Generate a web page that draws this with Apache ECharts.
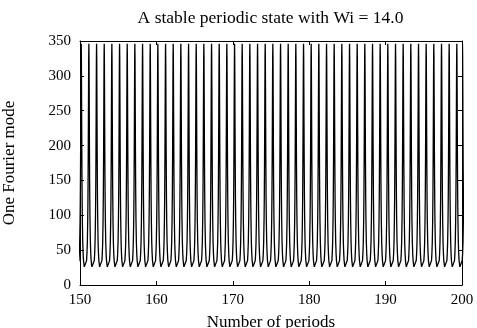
<!DOCTYPE html>
<html>
<head>
<meta charset="utf-8">
<script src="https://cdn.jsdelivr.net/npm/echarts@6/dist/echarts.min.js"></script>
<style>
html,body{margin:0;padding:0;background:#fff;}
#chart{width:477px;height:328px;}
</style>
</head>
<body>
<div id="chart"></div>
<script>
// Times (in periods) of each peak of the mode
const peakTimes = [149.16, 150.16, 151.16, 152.17, 153.17, 154.17, 155.18, 156.18, 157.18, 158.19, 159.19,
  160.19, 161.20, 162.20, 163.20, 164.21, 165.21, 166.21, 167.22, 168.22, 169.22,
  170.23, 171.23, 172.23, 173.24, 174.24, 175.24, 176.25, 177.25, 178.25, 179.26,
  180.26, 181.26, 182.27, 183.27, 184.27, 185.28, 186.28, 187.28, 188.29, 189.29,
  190.29, 191.30, 192.30, 193.30, 194.31, 195.31, 196.31, 197.32, 198.32, 199.32, 200.33];
// Shape of one period around a peak: time offsets from the peak and mode values
const cycleOffsets = [-0.5, -0.4, -0.3, -0.25, -0.2, -0.15, -0.12, -0.1, -0.08, -0.06, -0.04, -0.02, 0,
  0.02, 0.04, 0.06, 0.08, 0.1, 0.12, 0.15, 0.2, 0.25, 0.3, 0.4];
const cycleValues = [24, 26, 35, 45, 61, 92, 123, 152, 189, 235, 285, 328, 346,
  328, 285, 235, 189, 152, 123, 92, 61, 45, 35, 26];
const xRange = [150, 200];
const yRange = [0, 350];
const title = 'A stable periodic state with Wi = 14.0';
const xName = 'Number of periods';
const yName = 'One Fourier mode';

const data = [];
peakTimes.forEach(function (t) {
  cycleOffsets.forEach(function (o, j) {
    data.push([t + o, cycleValues[j]]);
  });
});

const FONT = 'Liberation Serif';
const tickTxt = { fontFamily: FONT, fontSize: 15, color: '#000' };
const nameTxt = { fontFamily: FONT, fontSize: 17, color: '#000' };
const chart = echarts.init(document.getElementById('chart'), null, { renderer: 'canvas' });
const axisCommon = {
  axisLine: { show: true, onZero: false, lineStyle: { color: '#000', width: 1 } },
  axisTick: { show: true, inside: true, length: 4, lineStyle: { color: '#000', width: 1 } },
  splitLine: { show: false }
};
chart.setOption({
  animation: false,
  backgroundColor: '#fff',
  title: {
    text: title, left: 265.5, top: 4, textAlign: 'center',
    textStyle: { fontFamily: FONT, fontSize: 17.5, fontWeight: 'normal', color: '#000' }
  },
  grid: { left: 80, right: 15, top: 41, bottom: 43, containLabel: false, outerBoundsMode: 'none' },
  xAxis: [
    Object.assign({
      type: 'value', position: 'bottom', min: xRange[0], max: xRange[1], interval: 10,
      name: xName, nameLocation: 'middle', nameGap: 29, nameMoveOverlap: false, nameTextStyle: nameTxt,
      axisLabel: Object.assign({ margin: 8 }, tickTxt)
    }, axisCommon),
    Object.assign({
      type: 'value', position: 'top', min: xRange[0], max: xRange[1], interval: 10,
      axisLabel: { show: false }
    }, axisCommon)
  ],
  yAxis: [
    Object.assign({
      type: 'value', position: 'left', min: yRange[0], max: yRange[1], interval: 50,
      name: yName, nameLocation: 'middle', nameGap: 62, nameRotate: 90, nameMoveOverlap: false, nameTextStyle: nameTxt,
      axisLabel: Object.assign({ margin: 9 }, tickTxt)
    }, axisCommon),
    Object.assign({
      type: 'value', position: 'right', min: yRange[0], max: yRange[1], interval: 50,
      axisLabel: { show: false }
    }, axisCommon)
  ],
  series: [{
    type: 'line', xAxisIndex: 0, yAxisIndex: 0, data: data,
    showSymbol: false, clip: true, sampling: null,
    lineStyle: { color: '#000', width: 1.3 }
  }]
});
</script>
</body>
</html>
